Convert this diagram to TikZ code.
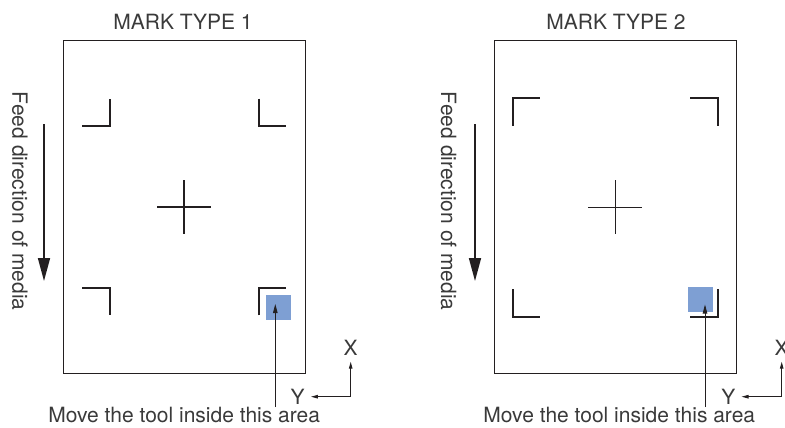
\documentclass[tikz,border=0pt]{standalone}
\usepackage{fontspec}
\setmainfont{TeX Gyre Heros}
\usetikzlibrary{arrows.meta, positioning}
\definecolor{inkDark}{HTML}{231F20}
\definecolor{textGray}{HTML}{3A3A3A}
\definecolor{toolBlue}{HTML}{7E9FD3}
\tikzset{
  sheet/.style={draw=inkDark, line width=1.3pt, minimum width=242pt, minimum height=333pt, inner sep=0pt},
  regmark/.style={draw=inkDark, line width=2pt},
  crossmark/.style={draw=inkDark, line width=1.5pt},
  toolarea/.style={fill=toolBlue, inner sep=0pt, minimum width=25pt, minimum height=24.5pt},
  lbl/.style={text=textGray, inner sep=0pt, font=\fontsize{21pt}{25pt}\selectfont},
  feed/.style={draw=inkDark, line width=1.7pt, -{Triangle[length=23pt,width=12pt]}},
  pointer/.style={draw=inkDark, line width=0.8pt, -{Triangle[length=9pt,width=4.5pt]}},
  axis/.style={draw=inkDark, line width=1pt, -{Triangle[length=7pt,width=3.5pt]}},
}
\begin{document}
\begin{tikzpicture}[x=1pt, y=-1pt]
  \useasboundingbox (0,0) rectangle (785,428);

  % mark type 1
  \node[lbl, anchor=base] (title1) at (183,29.3) {MARK TYPE 1};
  \node[sheet] (sheet1) at (184.5,207.2) {};
  \draw[regmark] (82.3,125.7) -| (110,98.7);
  \draw[regmark] (258.7,98.7) |- (286,125.7);
  \draw[regmark] (82.3,288.3) -| (110,315.3);
  \draw[regmark] (258.7,315.3) |- (286,288.3);
  \draw[crossmark] (157,207) -- (211.3,207) (184,180.3) -- (184,234.3);
  \node[toolarea] (area1) at (278,307.5) {};
  \coordinate (feedA1) at (44,124);
  \coordinate (feedB1) at (44,281);
  \draw[feed] (feedA1) -- (feedB1);
  \node[lbl, rotate=-90, anchor=base] (feedtxt1) at (12.5,201.3) {Feed direction of media};
  \node[lbl, anchor=base] (msg1) at (184.2,422.7) {Move the tool inside this area};
  \coordinate (tip1) at (275.3,304);
  \draw[pointer] (msg1.north -| tip1) -- (tip1);
  \node[lbl, anchor=base] (axX1) at (350.5,355) {X};
  \node[lbl, anchor=base] (axY1) at (297.7,404) {Y};
  \coordinate (orig1) at (350.7,396.7);
  \draw[axis] (orig1) -- (orig1 |- axX1.south) [shorten >=6.5pt];
  \draw[axis, shorten >=6pt] (orig1) -- (orig1 -| axY1.east);

  % mark type 2
  \node[lbl, anchor=base] (title2) at (616,29.3) {MARK TYPE 2};
  \node[sheet] (sheet2) at (615.2,207.2) {};
  \draw[regmark] (512.7,125.7) |- (540.3,98.3);
  \draw[regmark] (690.3,98.3) -| (718.3,125.7);
  \draw[regmark] (512.7,289.3) |- (540.3,316.7);
  \draw[regmark] (690.3,316.7) -| (718.3,289.3);
  \draw[crossmark] (588.3,207.3) -- (642.3,207.3) (615.3,180.3) -- (615.3,234.3);
  \node[toolarea] (area2) at (700.7,299.7) {};
  \coordinate (feedA2) at (475,124);
  \coordinate (feedB2) at (475,281);
  \draw[feed] (feedA2) -- (feedB2);
  \node[lbl, rotate=-90, anchor=base] (feedtxt2) at (441,201.3) {Feed direction of media};
  \node[lbl, anchor=base] (msg2) at (619.3,422.7) {Move the tool inside this area};
  \coordinate (tip2) at (705,304.5);
  \draw[pointer] (msg2.north -| tip2) -- (tip2);
  \node[lbl, anchor=base] (axX2) at (781.7,355) {X};
  \node[lbl, anchor=base] (axY2) at (728.3,404) {Y};
  \coordinate (orig2) at (781.7,396.7);
  \draw[axis, shorten >=6.5pt] (orig2) -- (orig2 |- axX2.south);
  \draw[axis, shorten >=6pt] (orig2) -- (orig2 -| axY2.east);
\end{tikzpicture}
\end{document}
